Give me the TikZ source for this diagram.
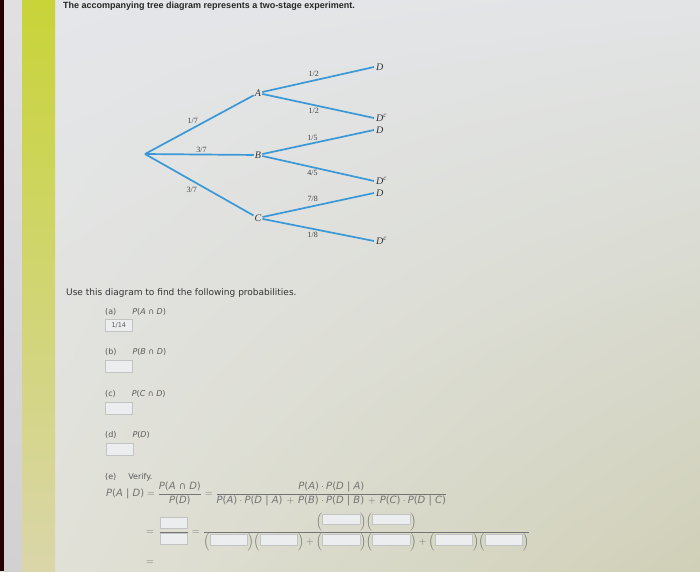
\documentclass[tikz,border=0pt]{standalone}
\usepackage{fontspec}
\usepackage{amsmath}
\setmainfont{DejaVu Sans}
\newfontfamily\headfont{Liberation Sans}
\newfontfamily\treefont{Liberation Serif}
\usetikzlibrary{positioning, shadings}

\definecolor{branchblue}{HTML}{3A98D6}
\definecolor{labelgray}{HTML}{5A5A5A}
\definecolor{formgray}{HTML}{747474}
\definecolor{boxgray}{HTML}{C2C4C4}
\definecolor{boxfill}{HTML}{ECEDEE}
\definecolor{bgul}{HTML}{E4E6EA}
\definecolor{bgur}{HTML}{E2E4E6}
\definecolor{bgll}{HTML}{E2E2DA}
\definecolor{bglr}{HTML}{D0D0B8}
\definecolor{bartop}{HTML}{C8D438}
\definecolor{barbot}{HTML}{DAD6AA}

\newcommand{\pr}[1]{\mbox{\textit{P}(#1)}}
\newcommand{\ev}[1]{\textit{#1}}
\newcommand{\given}{\ |\ }
\newcommand{\plus}{\,+\,}
\newcommand{\blank}[1][37pt]{{\fboxsep=0pt\fboxrule=0.6pt\fcolorbox{boxgray}{boxfill}{\rule{0pt}{10pt}\hspace{#1}}}}

\begin{document}
\begin{tikzpicture}[x=1pt, y=-1pt,
    branch/.style={draw=branchblue, line width=1.7pt},
    event/.style={font=\treefont\itshape\fontsize{10}{11}\selectfont, inner sep=1pt, text=black!80},
    outcome/.style={event, anchor=west, inner sep=2pt},
    prob/.style={font=\treefont\fontsize{8}{9}\selectfont, text=black!75, inner sep=0pt},
    part/.style={anchor=west, inner sep=0pt, font=\fontsize{8}{9}\selectfont, text=labelgray},
    answer/.style={draw=boxgray, fill=boxfill, line width=0.6pt, minimum width=27pt, minimum height=12pt, inner sep=0pt, font=\fontsize{6.5}{7}\selectfont, text=labelgray},
    formula/.style={anchor=west, inner sep=0pt, font=\fontsize{10}{11}\selectfont, text=formgray}
]
    % page background
    \shade[upper left=bgul, upper right=bgur, lower left=bgll, lower right=bglr]
        (0,0) rectangle (700,571);
    \fill[black!85!red] (0,0) rectangle (4,571);
    \shade[top color=black!12, bottom color=black!18] (4,0) rectangle (22,571);
    \shade[top color=bartop, bottom color=barbot] (22,0) rectangle (55,571);
    \useasboundingbox (0,0) rectangle (700,571);

    % heading
    \node[anchor=west, inner sep=0pt, font=\headfont\bfseries\fontsize{9}{10}\selectfont, text=black!85] (title) at (63,6)
        {The accompanying tree diagram represents a two-stage experiment.};

    % tree
    \coordinate (root) at (145,154);
    \node[event] (A) at (258,93) {A};
    \node[event] (B) at (258,155) {B};
    \node[event] (C) at (258,218) {C};
    \node[outcome] (AD) at (374,67) {D};
    \node[outcome] (ADc) at (374,118) {D\textsuperscript{\itshape c}};
    \node[outcome] (BD) at (374,130) {D};
    \node[outcome] (BDc) at (374,181) {D\textsuperscript{\itshape c}};
    \node[outcome] (CD) at (374,193) {D};
    \node[outcome] (CDc) at (374,241) {D\textsuperscript{\itshape c}};

    \draw[branch] (root) -- node[prob, pos=0.5, above left=1pt] {1/7} (A);
    \draw[branch] (root) -- node[prob, pos=0.52, above=1.5pt] {3/7} (B);
    \draw[branch] (root) -- node[prob, pos=0.5, below left=2pt] {3/7} (C);
    \draw[branch] (A) -- node[prob, pos=0.46, above=3pt] {1/2} (AD.west);
    \draw[branch] (A) -- node[prob, pos=0.46, below=2pt] {1/2} (ADc.west);
    \draw[branch] (B) -- node[prob, pos=0.45, above=2pt] {1/5} (BD.west);
    \draw[branch] (B) -- node[prob, pos=0.45, below=2pt] {4/5} (BDc.west);
    \draw[branch] (C) -- node[prob, pos=0.45, above=4pt] {7/8} (CD.west);
    \draw[branch] (C) -- node[prob, pos=0.45, below=2pt] {1/8} (CDc.west);

    % questions
    \node[anchor=west, inner sep=0pt, font=\fontsize{9}{10}\selectfont, text=black!80] (use) at (66,293)
        {Use this diagram to find the following probabilities.};
    \node[part] (qa) at (105,312) {(a)\hspace{16pt}\pr{\ev{A} ∩ \ev{D}}};
    \node[answer, anchor=north west] (ansa) at (105,319) {1/14};
    \node[part] (qb) at (105,352) {(b)\hspace{16pt}\pr{\ev{B} ∩ \ev{D}}};
    \node[answer, anchor=north west] (ansb) at (105,360) {};
    \node[part] (qc) at (105,394) {(c)\hspace{16pt}\pr{\ev{C} ∩ \ev{D}}};
    \node[answer, anchor=north west] (ansc) at (105,402) {};
    \node[part] (qd) at (105,435) {(d)\hspace{16pt}\pr{\ev{D}}};
    \node[answer, anchor=north west] (ansd) at (106,443) {};
    \node[part] (qe) at (105,477) {(e)\hspace{12pt}Verify.};

    % Bayes check
    \node[formula] (row1) at (106,494)
        {$\pr{\ev{A}\given\ev{D}} = \dfrac{\pr{\ev{A} ∩ \ev{D}}}{\pr{\ev{D}}}
          = \dfrac{\pr{\ev{A}}\cdot\pr{\ev{D}\given\ev{A}}}
                  {\pr{\ev{A}}\cdot\pr{\ev{D}\given\ev{A}} \plus \pr{\ev{B}}\cdot\pr{\ev{D}\given\ev{B}} \plus \pr{\ev{C}}\cdot\pr{\ev{D}\given\ev{C}}}$};
    \node[formula] (row2) at (146,532)
        {$= \,\dfrac{\blank[27pt]}{\blank[27pt]}
          = \dfrac{\left(\blank\right)\!\left(\blank\right)}
                  {\left(\blank\right)\!\left(\blank\right) + \left(\blank\right)\!\left(\blank\right) + \left(\blank\right)\!\left(\blank\right)}$};
    \node[formula] (row3) at (146,563) {$=$};
\end{tikzpicture}
\end{document}
